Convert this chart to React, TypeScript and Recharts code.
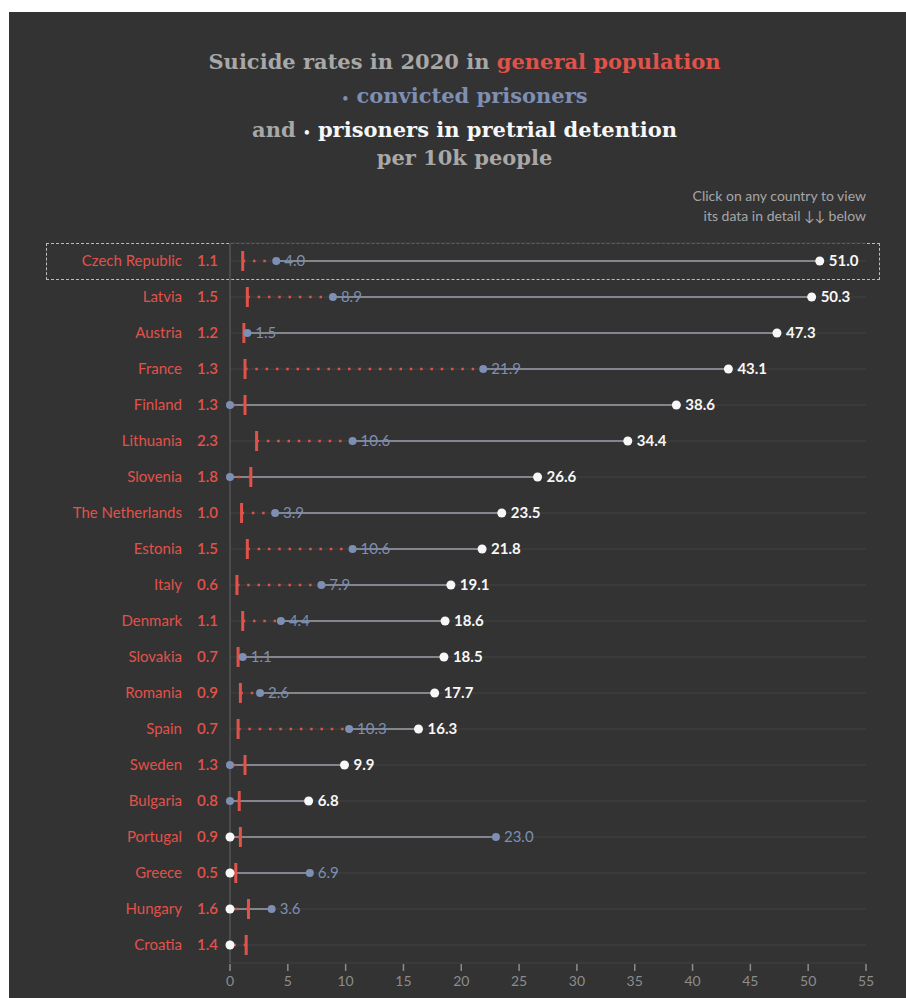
import React from 'react';
import { ComposedChart, Line, XAxis, YAxis, CartesianGrid, ReferenceLine } from 'recharts';

// Suicide rates per 10k people, 2020
const countries = [
    'Czech Republic', 'Latvia', 'Austria', 'France', 'Finland', 'Lithuania', 'Slovenia',
    'The Netherlands', 'Estonia', 'Italy', 'Denmark', 'Slovakia', 'Romania', 'Spain',
    'Sweden', 'Bulgaria', 'Portugal', 'Greece', 'Hungary', 'Croatia',
];
const generalRate = [1.1, 1.5, 1.2, 1.3, 1.3, 2.3, 1.8, 1.0, 1.5, 0.6, 1.1, 0.7, 0.9, 0.7, 1.3, 0.8, 0.9, 0.5, 1.6, 1.4];
const convictedRate = [4.0, 8.9, 1.5, 21.9, 0, 10.6, 0, 3.9, 10.6, 7.9, 4.4, 1.1, 2.6, 10.3, 0, 0, 23.0, 6.9, 3.6, 0];
const pretrialRate = [51.0, 50.3, 47.3, 43.1, 38.6, 34.4, 26.6, 23.5, 21.8, 19.1, 18.6, 18.5, 17.7, 16.3, 9.9, 6.8, 0, 0, 0, 0];
const xTicks = [0, 5, 10, 15, 20, 25, 30, 35, 40, 45, 50, 55];

const RED = '#e0524a';
const BLUE = '#7d8fb3';
const WHITE = '#f7f7f7';
const GREY = '#a8a8a8';
const BG = '#333333';

const chartData = countries.map((name, i) => ({
    name,
    general: generalRate[i],
    convicted: convictedRate[i],
    pretrial: pretrialRate[i],
}));

// grey line between convicted and pretrial, red dots from general rate to the lower one
const greySegments = chartData.filter(d => d.convicted !== d.pretrial);
const redSegments = chartData.map(d => ({ name: d.name, from: d.general, to: Math.min(d.convicted, d.pretrial) }));

const CountryTick = (props: any) => {
    const { x, y, payload } = props;
    const row = chartData.find(d => d.name === payload.value);
    return (
        <g>
            <text x={x - 48} y={y} dy="0.35em" textAnchor="end" fill={RED} fontSize={15}>{payload.value}</text>
            <text x={x - 12} y={y} dy="0.35em" textAnchor="end" fill={RED} fontSize={15} fontWeight={600}>
                {row ? row.general.toFixed(1) : ''}
            </text>
        </g>
    );
};

const ValueTick = (props: any) => {
    const { x, y, payload } = props;
    return (
        <g>
            <line x1={x} x2={x} y1={y + 1} y2={y + 8} stroke="#8c8c8c" strokeWidth={1.5} />
            <text x={x} y={y + 23} textAnchor="middle" fill="#8c8c8c" fontSize={14}>{payload.value}</text>
        </g>
    );
};

const GeneralMark = (props: any) => {
    const { cx, cy, index } = props;
    return <rect key={`g-${index}`} x={cx - 1.5} y={cy - 10} width={3} height={20} fill={RED} />;
};

const ConvictedDot = (props: any) => {
    const { cx, cy, index, payload } = props;
    return (
        <g key={`c-${index}`}>
            <circle cx={cx} cy={cy} r={4} fill={BLUE} />
            {payload.convicted > 0 && (
                <text x={cx + 8} y={cy} dy="0.35em" fill={BLUE} fontSize={15}>{payload.convicted.toFixed(1)}</text>
            )}
        </g>
    );
};

const PretrialDot = (props: any) => {
    const { cx, cy, index, payload } = props;
    return (
        <g key={`p-${index}`}>
            <circle cx={cx} cy={cy} r={4.5} fill={WHITE} />
            {payload.pretrial > 0 && (
                <text x={cx + 9} y={cy} dy="0.35em" fill={WHITE} fontSize={15} fontWeight={700}>{payload.pretrial.toFixed(1)}</text>
            )}
        </g>
    );
};

const titleLine = (top: number): React.CSSProperties => ({
    position: 'absolute', left: 0, top, width: 911, textAlign: 'center', whiteSpace: 'nowrap',
});

const App: React.FC = () => {
    return (
        <div style={{ position: 'absolute', left: 9, top: 12, width: 897, height: 986, background: BG, fontFamily: 'Lato, sans-serif', overflow: 'hidden' }}>
            {/* Title */}
            <div style={{ fontFamily: '"DejaVu Serif", serif', fontWeight: 700, fontSize: 21, lineHeight: '30px', color: GREY }}>
                <div style={titleLine(35)}>Suicide rates in 2020 in <span style={{ color: RED }}>general population</span></div>
                <div style={{ ...titleLine(69), color: BLUE }}><span style={{ fontSize: 12 }}>•</span> convicted prisoners</div>
                <div style={titleLine(103)}>and <span style={{ color: WHITE }}><span style={{ fontSize: 12 }}>•</span> prisoners in pretrial detention</span></div>
                <div style={titleLine(131)}>per 10k people</div>
            </div>

            {/* Note */}
            <div style={{ position: 'absolute', right: 40, top: 174, textAlign: 'right', fontSize: 14, lineHeight: '20px', color: '#a6a6a6' }}>
                <div>Click on any country to view</div>
                <div>its data in detail ↓↓ below</div>
            </div>

            {/* selected row */}
            <div style={{ position: 'absolute', left: 37, top: 231, width: 834, height: 37, border: '1px dashed #bdbdbd', boxSizing: 'border-box' }} />

            <ComposedChart
                width={897}
                height={986}
                data={chartData}
                layout="vertical"
                margin={{ top: 231, right: 40, bottom: 5, left: 0 }}
            >
                <CartesianGrid horizontal={true} vertical={false} stroke="#3e3e3e" strokeWidth={1.5} />
                <XAxis
                    type="number"
                    domain={[0, 55]}
                    ticks={xTicks}
                    axisLine={false}
                    tickLine={false}
                    tickSize={0}
                    tickMargin={0}
                    height={30}
                    tick={<ValueTick />}
                />
                <YAxis
                    type="category"
                    dataKey="name"
                    scale="point"
                    padding={{ top: 18, bottom: 18 }}
                    width={221}
                    axisLine={false}
                    tickLine={false}
                    tickSize={0}
                    tickMargin={0}
                    interval={0}
                    tick={<CountryTick />}
                />
                <ReferenceLine x={0} stroke="#555555" strokeWidth={1.5} />
                {greySegments.map(d => (
                    <ReferenceLine
                        key={`grey-${d.name}`}
                        segment={[{ x: d.convicted, y: d.name }, { x: d.pretrial, y: d.name }]}
                        stroke="#9da1a8"
                        strokeWidth={1.5}
                    />
                ))}
                {redSegments.map(d => (
                    <ReferenceLine
                        key={`red-${d.name}`}
                        segment={[{ x: d.from, y: d.name }, { x: d.to, y: d.name }]}
                        stroke={RED}
                        strokeWidth={2.5}
                        strokeDasharray="2.5 7.8"
                    />
                ))}
                <Line dataKey="general" stroke="none" dot={GeneralMark} activeDot={false} isAnimationActive={false} />
                <Line dataKey="convicted" stroke="none" dot={ConvictedDot} activeDot={false} isAnimationActive={false} />
                <Line dataKey="pretrial" stroke="none" dot={PretrialDot} activeDot={false} isAnimationActive={false} />
            </ComposedChart>
        </div>
    );
};

export default App;
